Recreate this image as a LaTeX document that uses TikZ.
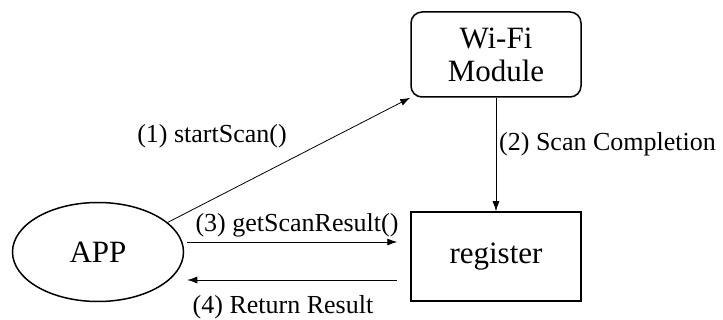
\documentclass[tikz,border=0pt]{standalone}
\usepackage{fontspec}
\setmainfont{Liberation Serif}
\usetikzlibrary{shapes.geometric,arrows.meta}
\begin{document}
\begin{tikzpicture}[x=1pt,y=-1pt,
  boxtext/.style={font=\fontsize{31}{33}\selectfont},
  lbl/.style={font=\fontsize{26}{28}\selectfont, inner sep=0pt},
  arr/.style={draw=black, line width=0.8pt, -{Latex[length=10pt,width=7pt]}},
  blk/.style={draw=black, line width=1.5pt}]
\useasboundingbox (0,0) rectangle (723,320);
\node[blk, boxtext, rounded corners=11pt, minimum width=170pt, minimum height=85pt, inner sep=0pt, align=center] (wifi) at (496,54.5) {Wi-Fi\\Module};
\node[blk, boxtext, minimum width=170pt, minimum height=89pt, inner sep=0pt] (reg) at (496,256.5) {register};
\node[blk, boxtext, ellipse, minimum width=171pt, minimum height=99pt, inner sep=0pt] (app) at (98,252) {APP};
\draw[arr] (app.23) -- (wifi.south west);
\draw[arr] (wifi.south) -- (reg.north);
\draw[arr] ([xshift=3pt]app.east |- 0,242) -- ([xshift=-13pt]reg.west |- 0,242);
\draw[arr] ([xshift=-13pt]reg.west |- 0,280) -- ([xshift=3pt]app.east |- 0,280);
\node[lbl] (l1) at (212,136) {(1) startScan()};
\node[lbl, anchor=west] (l2) at (499,144) {(2) Scan Completion};
\node[lbl] (l3) at (297,225) {(3) getScanResult()};
\node[lbl] (l4) at (283,307) {(4) Return Result};
\end{tikzpicture}
\end{document}
